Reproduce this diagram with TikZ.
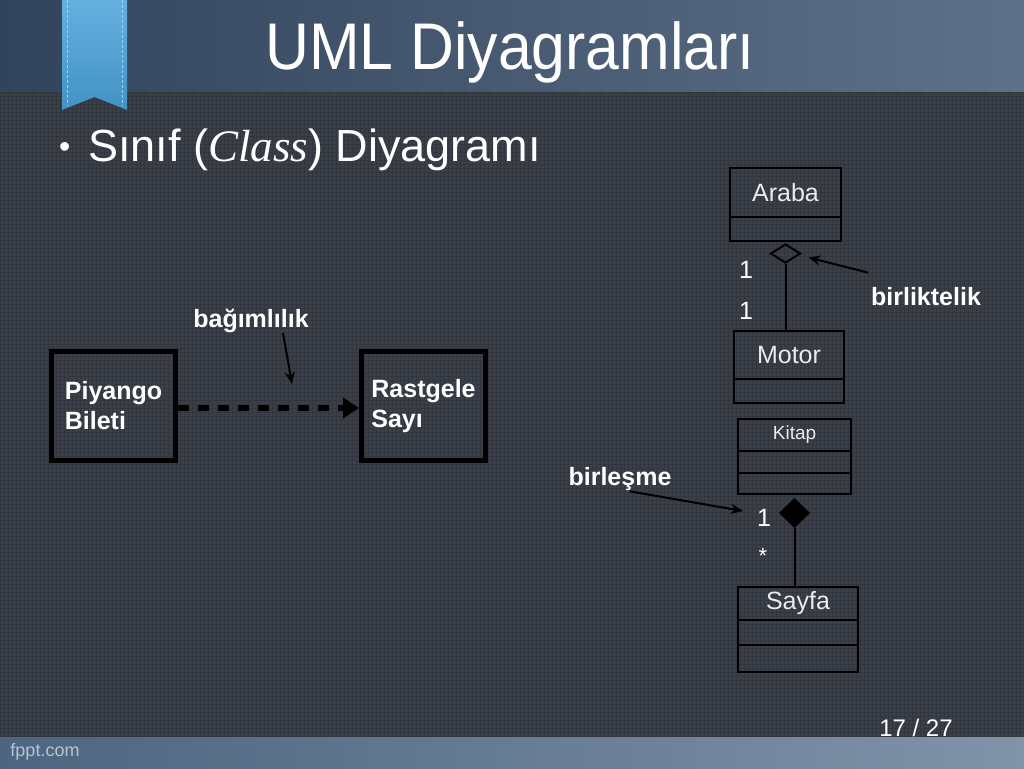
\documentclass[tikz,border=0pt]{standalone}
\usepackage{fontspec}
\setmainfont{Liberation Sans}
\newfontfamily\klasfont{Liberation Serif}
\usepackage{tikz}
\usetikzlibrary{shapes.geometric, arrows.meta, positioning}
\definecolor{zemin}{HTML}{3A3F48}
\definecolor{izgara}{HTML}{32373F}
\definecolor{ustsol}{HTML}{32445B}
\definecolor{ustsag}{HTML}{5F7189}
\definecolor{altsol}{HTML}{4D6580}
\definecolor{altsag}{HTML}{8093A9}
\definecolor{kurdele}{HTML}{4AA2DA}
\definecolor{dikis}{HTML}{9BD2F2}
\definecolor{soluk}{HTML}{B8C3D1}

\begin{document}
\begin{tikzpicture}[x=1pt, y=1pt,
    kutu/.style={draw=black, line width=5pt, minimum width=124pt, minimum height=109pt, align=left, text=white, font=\fontsize{25}{30}\selectfont\bfseries},
    sinif/.style={draw=black, line width=2pt, outer sep=0pt, inner sep=0pt, text=white!92!black, font=\fontsize{25}{30}\selectfont},
    etiket/.style={text=white, inner sep=0pt, font=\fontsize{25}{30}\selectfont\bfseries},
    sayi/.style={text=white, inner sep=0pt, font=\fontsize{25}{30}\selectfont},
    okla/.style={draw=black, line width=2pt, -{Stealth[length=12pt, width=10pt]}}]
    \useasboundingbox (0,0) rectangle (1024,768);
    \fill[zemin] (0,0) rectangle (1024,768);
    \draw[izgara, line width=0.8pt, step=4pt] (0,0) grid (1024,768);
    \shade[left color=ustsol, right color=ustsag] (0,676) rectangle (1024,768);
    \shade[left color=altsol, right color=altsag] (0,0) rectangle (1024,31);
    \shade[top color=kurdele!85!white, bottom color=kurdele!90!black] (62,768) -- (62,658) -- (94.5,671) -- (127,658) -- (127,768) -- cycle;
    \draw[dikis, line width=0.8pt, dash pattern=on 3pt off 2pt] (67,768) -- (67,662) (122,768) -- (122,662);

    \node[anchor=base, text=white, xscale=0.92, transform shape, font=\fontsize{66}{70}\selectfont] (baslik) at (510,698) {UML Diyagramları};
    \node[anchor=base west, text=white, inner sep=0pt, font=\fontsize{45}{50}\selectfont] (madde) at (59,606) {\raisebox{4pt}{\fontsize{32}{32}\selectfont\textbullet}\hspace{18pt}Sınıf ({\klasfont\itshape Class}) Diyagramı};

    \node[kutu] (piyango) at (113.5,362) {Piyango\\Bileti};
    \node[kutu] (rastgele) at (423.5,362) {Rastgele\\Sayı};
    \draw[line width=6pt, dash pattern=on 11pt off 9pt, -{Triangle[length=16pt, width=20pt]}] ([yshift=-2pt]piyango.east) -- ([yshift=-2pt]rastgele.west);
    \node[etiket] (bagimlilik) at (251,447) {bağımlılık};
    \coordinate (bagUc) at (292,384);
    \draw[okla] ([xshift=32pt]bagimlilik.south) -- (bagUc);

    \node[sinif, minimum width=111pt, minimum height=49pt] (araba) at (785.5,575.5) {Araba};
    \node[sinif, minimum width=111pt, minimum height=24pt, below=0pt of araba] (arabaAlt) {};
    \node[diamond, draw=black, line width=2pt, inner sep=0pt, minimum width=30pt, minimum height=19pt, below=2pt of arabaAlt] (birlik) {};
    \node[sinif, minimum width=110pt, minimum height=48pt] (motor) at (789,413) {Motor};
    \node[sinif, minimum width=110pt, minimum height=24pt, below=0pt of motor] (motorAlt) {};
    \draw[line width=2pt] (birlik.south) -- (birlik.south |- motor.north);
    \node[sayi] (birUst) at (746,498) {1};
    \node[sayi] (birAlt) at (746,457) {1};
    \node[etiket] (birliktelik) at (926,471) {birliktelik};
    \draw[okla] ([shift={(-3pt,15pt)}]birliktelik.north west) -- ([shift={(7pt,-4pt)}]birlik.east);

    \node[sinif, minimum width=113pt, minimum height=32pt, font=\fontsize{19}{22}\selectfont] (kitap) at (794.5,333) {Kitap};
    \node[sinif, minimum width=113pt, minimum height=22pt, below=0pt of kitap] (kitapOrta) {};
    \node[sinif, minimum width=113pt, minimum height=21pt, below=0pt of kitapOrta] (kitapAlt) {};
    \node[diamond, fill=black, draw=black, line width=1pt, inner sep=0pt, minimum width=30pt, minimum height=29pt, below=4pt of kitapAlt] (bilesim) {};
    \node[sinif, minimum width=120pt, minimum height=33pt] (sayfa) at (798,164.5) {Sayfa};
    \node[sinif, minimum width=120pt, minimum height=25pt, below=0pt of sayfa] (sayfaOrta) {};
    \node[sinif, minimum width=120pt, minimum height=27pt, below=0pt of sayfaOrta] (sayfaAlt) {};
    \draw[line width=2pt] (bilesim.south) -- (bilesim.south |- sayfa.north);
    \node[sayi] (birKitap) at (764,250) {1};
    \node[sayi, font=\fontsize{22}{26}\selectfont] (yildiz) at (763,212) {*};
    \node[etiket] (birlesme) at (620,288.5) {birleşme};
    \coordinate (birlesmeUc) at (743,257);
    \draw[okla] ([xshift=10pt]birlesme.south) -- (birlesmeUc);

    \node[text=white, font=\fontsize{24}{28}\selectfont] (sayfaNo) at (916,40) {17 / 27};
    \node[text=soluk, font=\fontsize{18}{22}\selectfont] (fppt) at (45,16) {fppt.com};
\end{tikzpicture}
\end{document}
